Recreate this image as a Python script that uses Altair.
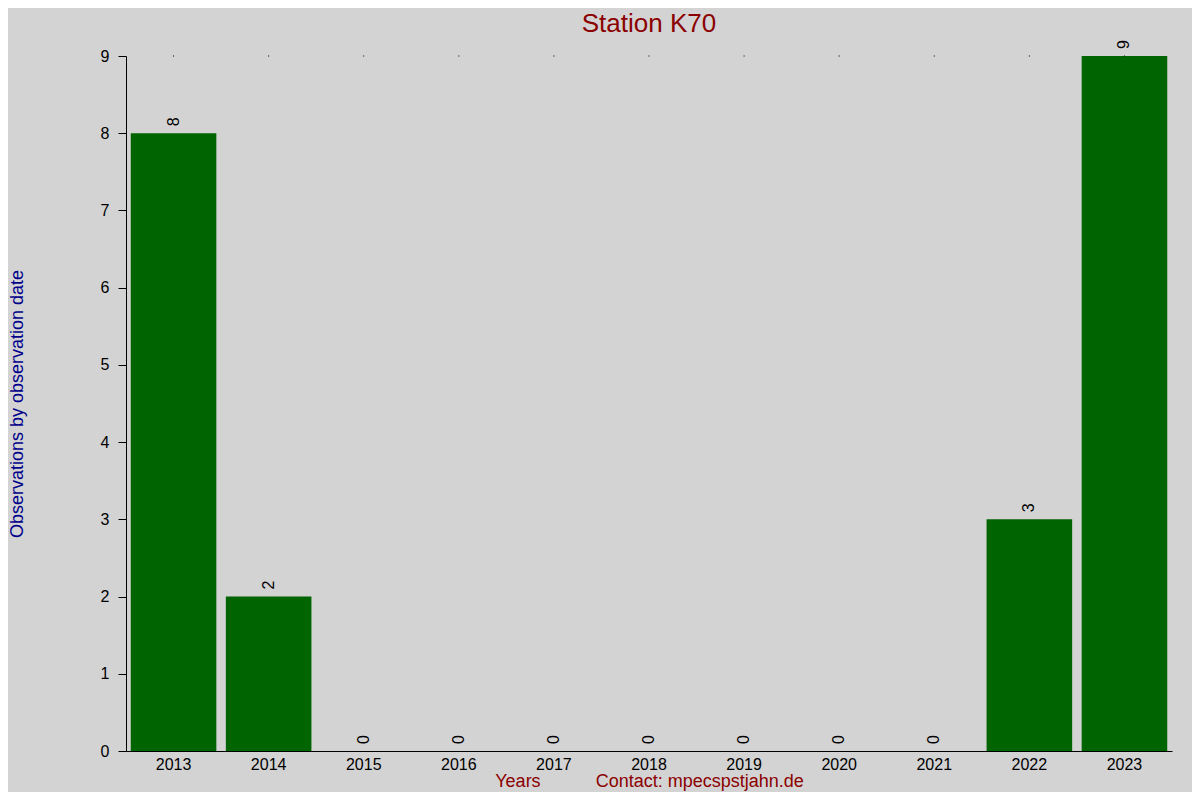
import altair as alt
import pandas as pd

years = ["2013", "2014", "2015", "2016", "2017", "2018", "2019", "2020", "2021", "2022", "2023"]
counts = [8, 2, 0, 0, 0, 0, 0, 0, 0, 3, 9]
y_max = 9

df = pd.DataFrame({"year": years, "count": counts, "top": [y_max] * len(years)})

NB = "\u00a0"
x_title = "Years" + NB * 11 + "Contact: mpecspstjahn.de"

x_enc = alt.X(
    "year:N",
    sort=years,
    scale=alt.Scale(paddingInner=0.1, paddingOuter=0.05),
    axis=alt.Axis(
        title=x_title,
        titleColor="#8B0000",
        titleFontSize=18,
        titleFontWeight="normal",
        titleFont="Liberation Sans",
        titleBaseline="alphabetic",
        titleY=35,
        labelAngle=0,
        labelFontSize=16,
        labelFont="Liberation Sans",
        labelColor="black",
        labelPadding=5,
        ticks=False,
        domainColor="black",
        domainWidth=1,
        grid=False,
    ),
)

y_enc = alt.Y(
    "count:Q",
    scale=alt.Scale(domain=[0, y_max], nice=False),
    axis=alt.Axis(
        title="Observations by observation date",
        titleColor="#00008B",
        titleFontSize=18,
        titleFontWeight="normal",
        titleFont="Liberation Sans",
        titleAngle=270,
        titleBaseline="alphabetic",
        titleX=-104,
        values=list(range(0, y_max + 1)),
        format="d",
        labelFontSize=16,
        labelFont="Liberation Sans",
        labelColor="black",
        labelPadding=9,
        tickSize=8,
        tickColor="black",
        domainColor="black",
        grid=False,
    ),
)

bars = alt.Chart(df).mark_bar(color="#006400").encode(x=x_enc, y=y_enc)

labels = alt.Chart(df).mark_text(
    angle=270, align="left", baseline="middle", dx=7,
    fontSize=16, font="Liberation Sans", color="black",
).encode(x=alt.X("year:N", sort=years), y="count:Q", text="count:Q")

dots = alt.Chart(df).mark_square(size=1, color="black", opacity=1).encode(
    x=alt.X("year:N", sort=years), y="top:Q"
)

chart = (
    alt.layer(bars, labels, dots)
    .properties(
        width=1046,
        height=695,
        title=alt.TitleParams(
            "Station K70",
            color="#8B0000",
            fontSize=26,
            fontWeight="normal",
            font="Liberation Sans",
            anchor="middle",
            frame="group",
            baseline="alphabetic",
            offset=13,
            dy=31,
        ),
        autosize=alt.AutoSizeParams(type="none"),
        padding={"left": 118, "top": 48, "right": 20, "bottom": 41},
    )
    .configure(background="#D3D3D3")
    .configure_view(stroke=None)
)

chart.save("out.html", embed_options={"renderer": "svg", "actions": False})
